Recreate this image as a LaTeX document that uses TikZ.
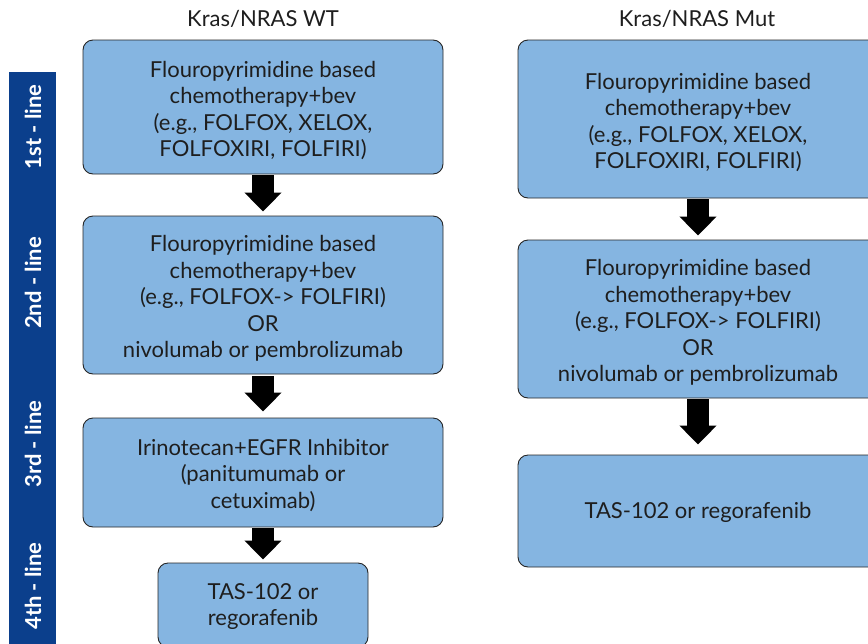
\documentclass[tikz,border=0pt]{standalone}
\usepackage{fontspec}
\setmainfont{Lato}
\usetikzlibrary{arrows.meta}
\definecolor{boxblue}{HTML}{85B5E1}
\definecolor{barblue}{HTML}{0B3F8C}
\definecolor{txt}{HTML}{1E1E1E}
\tikzset{
  stepbox/.style={draw=black!85, line width=0.9pt, fill=boxblue, rounded corners=10pt, inner sep=0pt},
  boxtext/.style={align=center, text=txt, font=\fontsize{22}{26.5}\selectfont, inner sep=0pt},
  blockarrow/.style={line width=22pt, -{Triangle[width=36pt,length=19pt]}, black},
  linelabel/.style={rotate=90, text=white, font=\bfseries\fontsize{22}{24}\selectfont},
  header/.style={text=txt, font=\fontsize{22}{24}\selectfont}
}
\begin{document}
\begin{tikzpicture}[x=1pt,y=-1pt]
\useasboundingbox (0,0) rectangle (868,643);
% left bar
\node[fill=barblue, minimum width=47pt, minimum height=580pt, inner sep=0pt, anchor=north west] (bar) at (9,72) {};
\node[linelabel] (l1) at (33,127) {1st - line};
\node[linelabel] (l2) at (33,283) {2nd - line};
\node[linelabel] (l3) at (33,444) {3rd - line};
\node[linelabel] (l4) at (33,586) {4th - line};
% headers
\node[header] (hwt) at (263,19) {Kras/NRAS WT};
\node[header] (hmut) at (697,19) {Kras/NRAS Mut};
% left column
\node[stepbox, minimum width=360pt, minimum height=134pt] (a1) at (263,107) {};
\node[boxtext] (a1t) at ([yshift=-3.5pt]a1.center)
  {Flouropyrimidine based\\chemotherapy+bev\\(e.g., FOLFOX, XELOX,\\FOLFOXIRI, FOLFIRI)};
\node[stepbox, minimum width=360pt, minimum height=158pt] (a2) at (263,295) {};
\node[boxtext] (a2t) at ([yshift=-3.5pt]a2.center)
  {Flouropyrimidine based\\chemotherapy+bev\\(e.g., FOLFOX-> FOLFIRI)\\OR\\nivolumab or pembrolizumab};
\node[stepbox, minimum width=360pt, minimum height=109pt] (a3) at (263,472.5) {};
\node[boxtext] (a3t) at ([yshift=-3pt]a3.center)
  {Irinotecan+EGFR Inhibitor\\(panitumumab or\\cetuximab)};
\node[stepbox, minimum width=210pt, minimum height=84pt] (a4) at (263,605) {};
\node[boxtext] (a4t) at ([yshift=-1.5pt]a4.center)
  {TAS-102 or\\regorafenib};
% right column
\node[stepbox, minimum width=360pt, minimum height=158pt] (b1) at (698,119) {};
\node[boxtext] (b1t) at ([yshift=-3.5pt]b1.center)
  {Flouropyrimidine based\\chemotherapy+bev\\(e.g., FOLFOX, XELOX,\\FOLFOXIRI, FOLFIRI)};
\node[stepbox, minimum width=360pt, minimum height=158pt] (b2) at (698,319) {};
\node[boxtext] (b2t) at ([yshift=-3.5pt]b2.center)
  {Flouropyrimidine based\\chemotherapy+bev\\(e.g., FOLFOX-> FOLFIRI)\\OR\\nivolumab or pembrolizumab};
\node[stepbox, minimum width=360pt, minimum height=112pt] (b3) at (698,511) {};
\node[boxtext] (b3t) at ([yshift=-1pt]b3.center) {TAS-102 or regorafenib};
% arrows
\draw[blockarrow, shorten <=1pt, shorten >=4pt] (a1) -- (a2);
\draw[blockarrow, shorten <=2pt, shorten >=6pt] (a2) -- (a3);
\draw[blockarrow, shorten <=1pt, shorten >=3pt] (a3) -- (a4);
\draw[blockarrow, shorten <=1pt, shorten >=4pt] (b1) -- (b2);
\draw[blockarrow, shorten <=1pt, shorten >=10pt] (b2) -- (b3);
\end{tikzpicture}
\end{document}
